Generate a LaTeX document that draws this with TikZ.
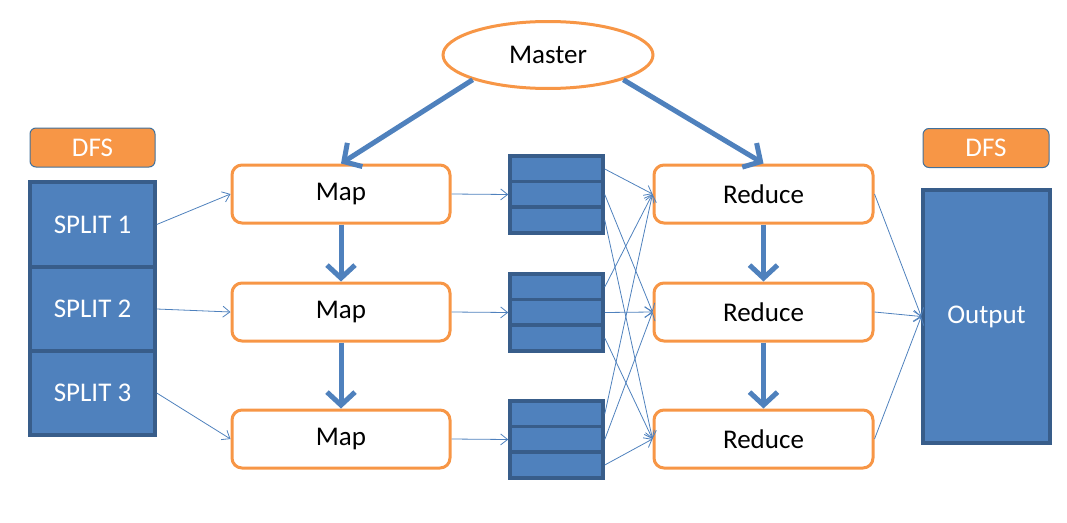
\documentclass[tikz,border=0pt]{standalone}
\usepackage{fontspec}
\setmainfont{Carlito}
\usetikzlibrary{shapes.geometric,arrows.meta}
\definecolor{ora}{HTML}{F79646}
\definecolor{blu}{HTML}{4F81BD}
\definecolor{dblu}{HTML}{385D8A}
\definecolor{eblu}{HTML}{41719C}
\tikzset{
  every node/.style={font=\fontsize{27}{30}\selectfont, inner sep=0pt},
  proc/.style={draw=ora, line width=3pt, fill=white, rounded corners=10pt,
    minimum height=58pt, text=black},
  dfsbox/.style={draw=eblu, line width=1pt, fill=ora, rounded corners=6pt,
    minimum height=39pt, text=white},
  blk/.style={draw=dblu, line width=3.5pt, fill=blu, text=white},
  cell/.style={draw=dblu, line width=3.5pt, fill=blu, minimum width=93pt, minimum height=25.6pt},
  thick arrow/.style={draw=blu, line width=5pt, -{Straight Barb[length=13pt,width=28pt]}},
  thin arrow/.style={draw=blu, line width=0.8pt, -{Straight Barb[length=7pt,width=11pt]}}
}
\begin{document}
\begin{tikzpicture}[x=1pt,y=-1pt]
\useasboundingbox (0,0) rectangle (1067,522);

% master
\node[ellipse, draw=ora, line width=3pt, fill=white, minimum width=210pt, minimum height=67pt] (master) at (548,55) {Master};

% input side
\node[dfsbox, minimum width=125pt] (dfsin) at (92.5,147.5) {DFS};
\node[blk, minimum width=125pt, minimum height=85pt] (sp1) at (92.5,224.5) {SPLIT 1};
\node[blk, minimum width=125pt, minimum height=84pt] (sp2) at (92.5,309) {SPLIT 2};
\node[blk, minimum width=125pt, minimum height=84pt] (sp3) at (92.5,393) {SPLIT 3};

% map workers
\node[proc, minimum width=218pt] (map1) at (341,194) {Map};
\node[proc, minimum width=218pt] (map2) at (341,312) {Map};
\node[proc, minimum width=218pt] (map3) at (341,439) {Map};

% intermediate partitions
\node[cell] (s1a) at (556.5,169) {};
\node[cell] (s1b) at (556.5,194.5) {};
\node[cell] (s1c) at (556.5,220) {};
\node[cell] (s2a) at (556.5,287) {};
\node[cell] (s2b) at (556.5,312.5) {};
\node[cell] (s2c) at (556.5,338) {};
\node[cell] (s3a) at (556.5,414) {};
\node[cell] (s3b) at (556.5,439.5) {};
\node[cell] (s3c) at (556.5,465) {};

% reduce workers
\node[proc, minimum width=219pt] (red1) at (763.5,194) {Reduce};
\node[proc, minimum width=219pt] (red2) at (763.5,312) {Reduce};
\node[proc, minimum width=219pt] (red3) at (763.5,439) {Reduce};

% output side
\node[dfsbox, minimum width=126pt] (dfsout) at (986,148) {DFS};
\node[blk, minimum width=127pt, minimum height=253pt] (out) at (986.5,316.5) {Output};

% control flow
\draw[thick arrow] (master.south west) -- (map1.north);
\draw[thick arrow] (master.south east) -- (red1.north);
\draw[thick arrow] (map1.south) -- (map2.north);
\draw[thick arrow] (map2.south) -- (map3.north);
\draw[thick arrow] (red1.south) -- (red2.north);
\draw[thick arrow] (red2.south) -- (red3.north);

% data flow
\draw[thin arrow] (sp1.east) -- (map1.west);
\draw[thin arrow] (sp2.east) -- (map2.west);
\draw[thin arrow] (sp3.east) -- (map3.west);
\draw[thin arrow] (map1.east) -- (s1b.west);
\draw[thin arrow] (map2.east) -- (s2b.west);
\draw[thin arrow] (map3.east) -- (s3b.west);

\foreach \s in {1,2,3}{
  \draw[thin arrow] (s\s a.east) -- (red1.west);
  \draw[thin arrow] (s\s b.east) -- (red2.west);
  \draw[thin arrow] (s\s c.east) -- (red3.west);
}

\draw[thin arrow] (red1.east) -- (out.west);
\draw[thin arrow] (red2.east) -- (out.west);
\draw[thin arrow] (red3.east) -- (out.west);
\end{tikzpicture}
\end{document}
